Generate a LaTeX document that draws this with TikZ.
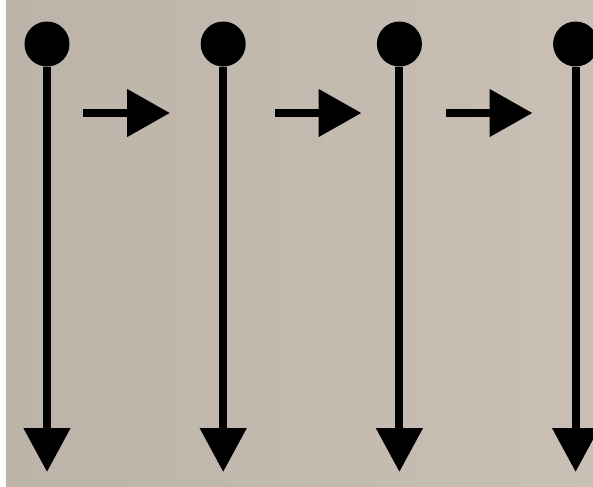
\documentclass[tikz,border=0pt]{standalone}
\usepackage{xcolor}
\usetikzlibrary{arrows.meta,positioning}
\definecolor{bgleft}{RGB}{188,179,169}
\definecolor{bgright}{RGB}{201,191,181}

\begin{document}
\begin{tikzpicture}[node distance=2.61cm,
    dot/.style={circle,fill=black,inner sep=0pt,minimum size=0.9cm},
    down/.style={line width=0.16cm,-{Triangle[length=0.88cm,width=0.9cm]}},
    next/.style={line width=0.16cm,-{Triangle[length=0.86cm,width=0.92cm]}}]
    % background
    \fill[white] (0,0) rectangle (11.86,-9.72);
    \shade[left color=bgleft,right color=bgright] (0.12,0) rectangle (11.86,-9.72);
    \useasboundingbox (0,0) rectangle (11.86,-9.72);

    \node[dot] (d1) at (0.94,-0.88) {};
    \node[dot,right=of d1] (d2) {};
    \node[dot,right=of d2] (d3) {};
    \node[dot,right=of d3] (d4) {};

    \coordinate[below=8.56cm of d1.center] (e1);
    \coordinate[below=8.56cm of d2.center] (e2);
    \coordinate[below=8.56cm of d3.center] (e3);
    \coordinate[below=8.56cm of d4.center] (e4);

    \draw[down] (d1) -- (e1);
    \draw[down] (d2) -- (e2);
    \draw[down] (d3) -- (e3);
    \draw[down] (d4) -- (e4);

    % small arrows in between
    \coordinate (a1) at (1.66,-2.26);
    \coordinate (b1) at (3.40,-2.26);
    \coordinate (a2) at (5.50,-2.26);
    \coordinate (b2) at (7.23,-2.26);
    \coordinate (a3) at (8.92,-2.26);
    \coordinate (b3) at (10.65,-2.26);

    \draw[next] (a1) -- (b1);
    \draw[next] (a2) -- (b2);
    \draw[next] (a3) -- (b3);
\end{tikzpicture}
\end{document}
